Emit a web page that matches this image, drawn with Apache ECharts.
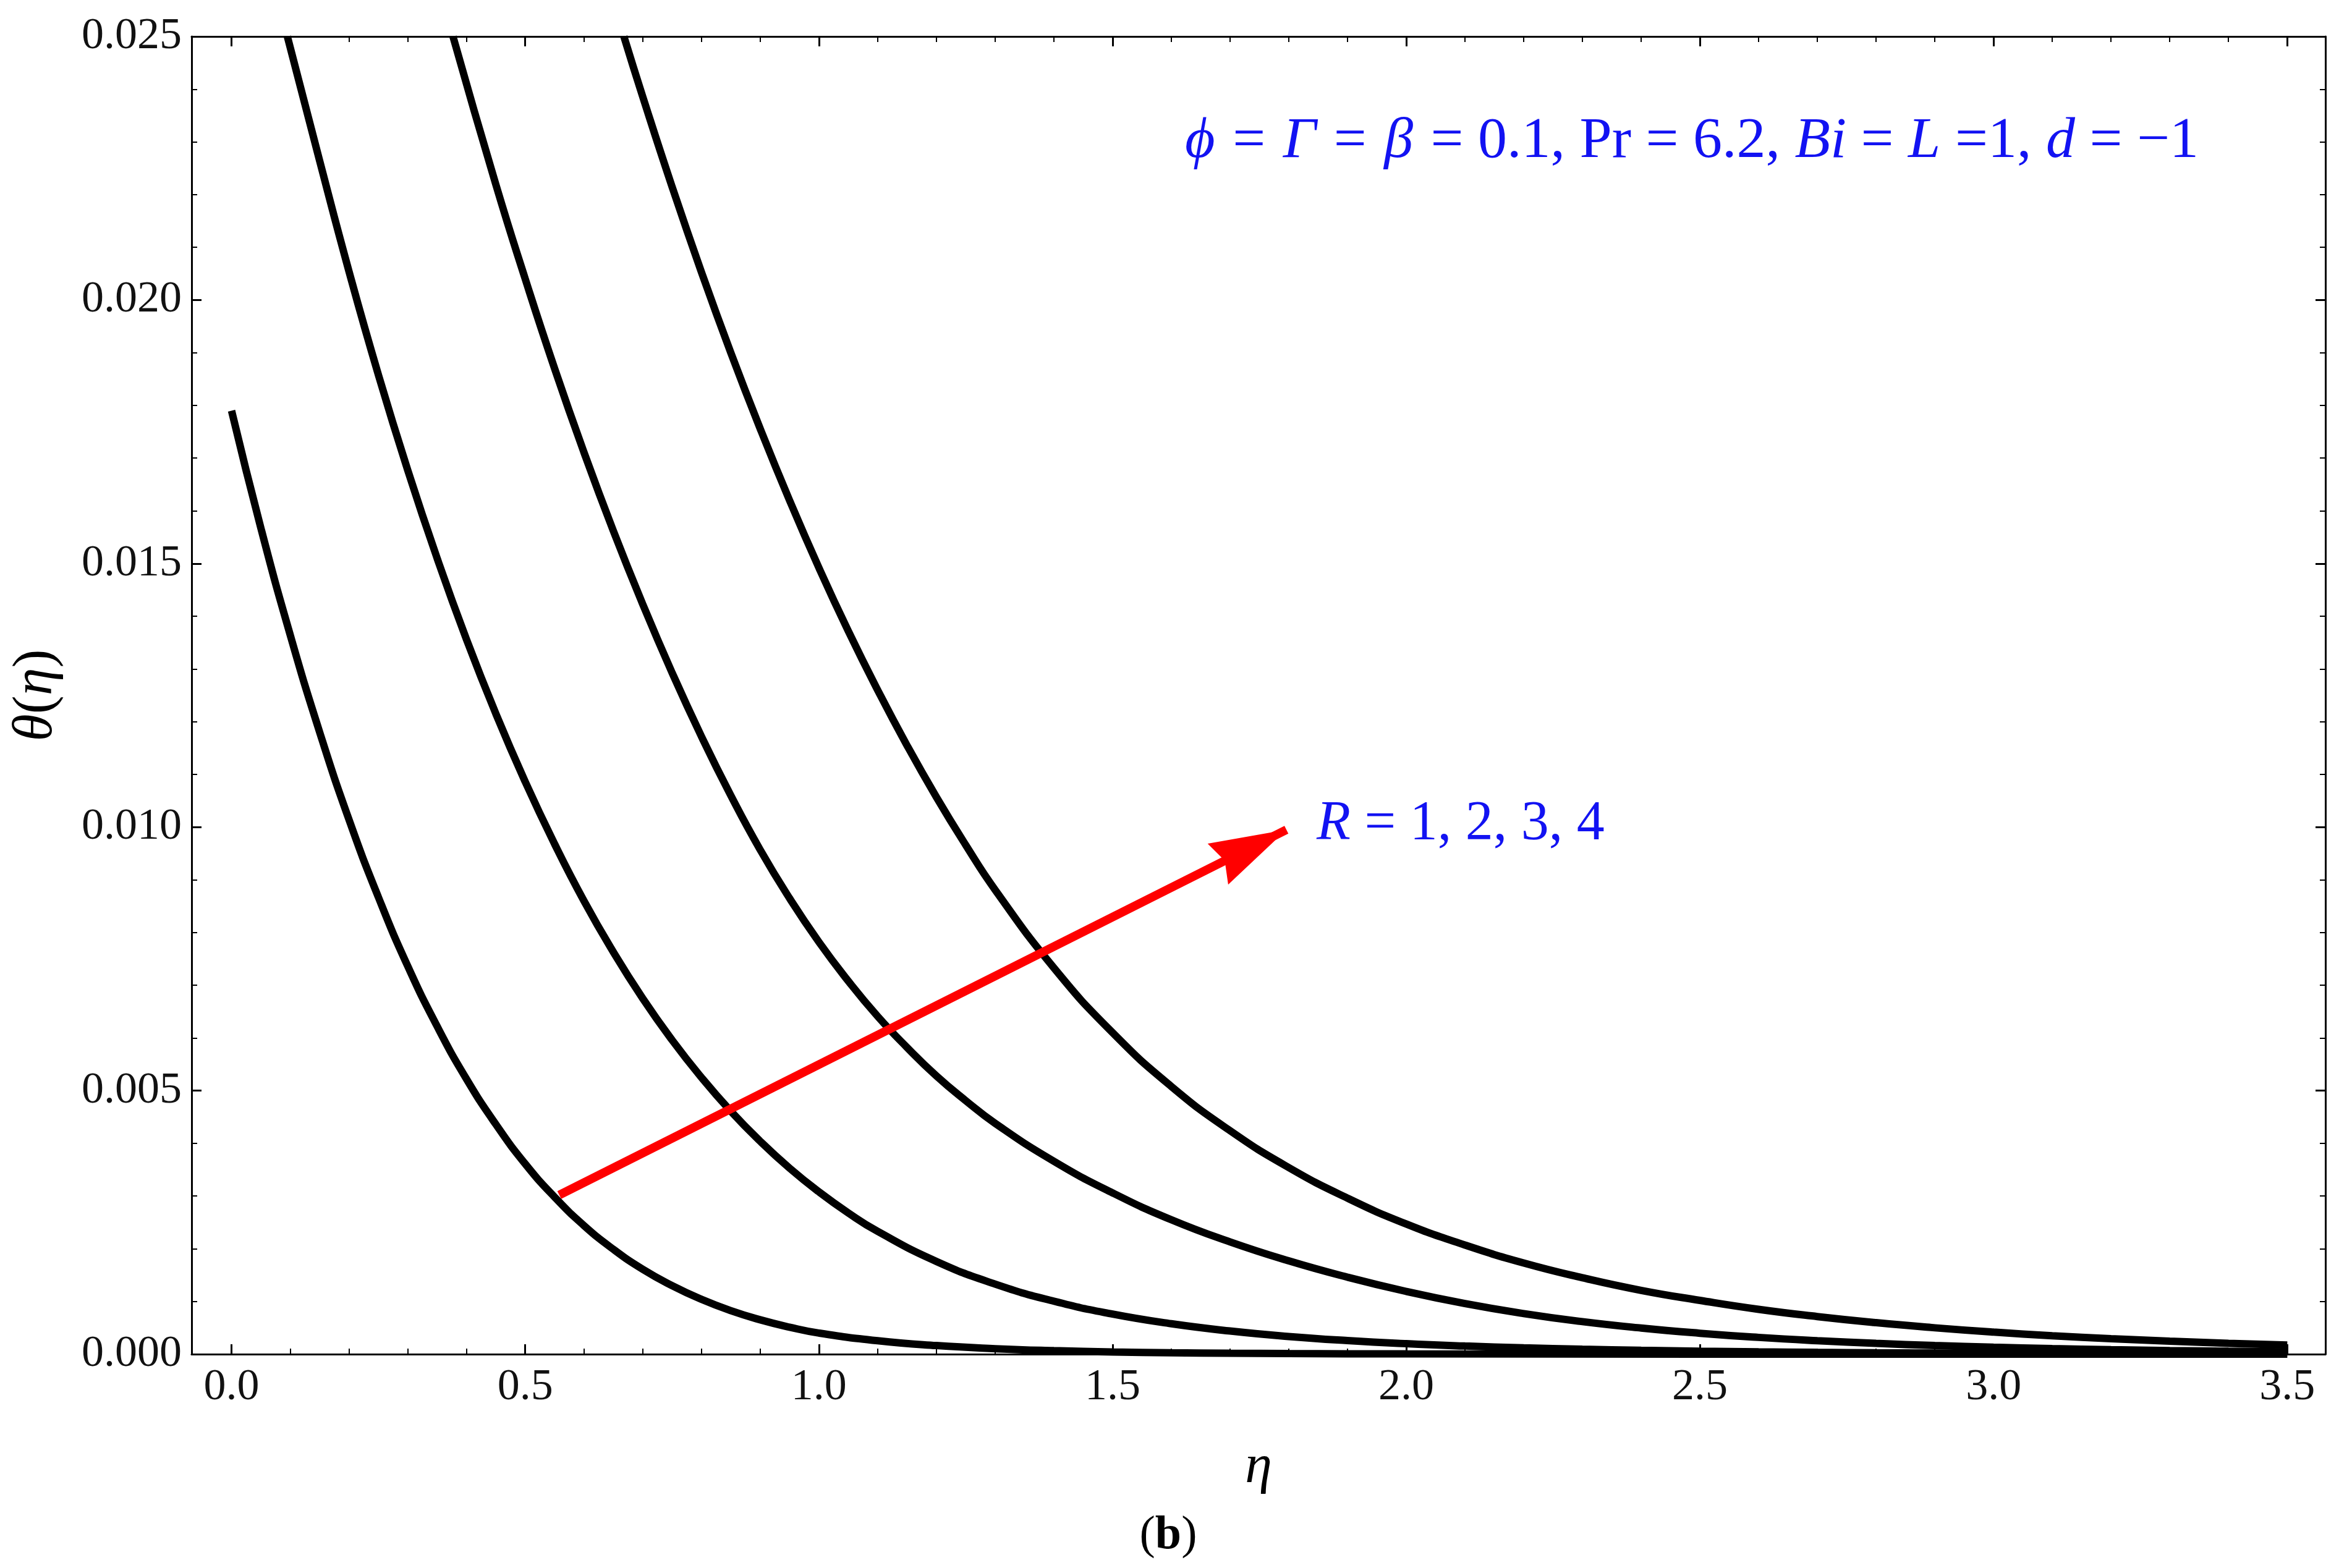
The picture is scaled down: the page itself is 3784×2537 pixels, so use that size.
<!DOCTYPE html>
<html>
<head>
<meta charset="utf-8">
<script src="https://cdn.jsdelivr.net/npm/echarts@6/dist/echarts.min.js"></script>
<style>
html,body{margin:0;padding:0;background:#ffffff;}
#chart{width:3784px;height:2537px;}
</style>
</head>
<body>
<div id="chart"></div>
<script>
// ---- data ----
const etaR1 = [0, 0.05, 0.10, 0.15, 0.20, 0.25, 0.30, 0.35, 0.40, 0.45, 0.50, 0.55, 0.60, 0.65, 0.70, 0.75, 0.80, 0.85, 0.90, 0.95, 1.00, 1.10, 1.20, 1.30, 1.40, 1.50, 1.60, 1.70, 1.80, 1.90, 2.00, 2.50, 3.00, 3.50];
const thetaR1 = [0.0179, 0.01567, 0.01364, 0.0118, 0.01014, 0.00867, 0.00736, 0.00622, 0.00522, 0.00436, 0.00361, 0.00298, 0.00244, 0.00199, 0.00161, 0.0013, 0.00104, 0.000825, 0.000652, 0.000512, 0.0004, 0.000255, 0.000163, 0.000104, 0.0000662, 0.0000422, 0.0000269, 0.0000172, 0.000011, 0.000007, 0.0000045, 0.0000005, 0, 0];

const etaR2 = [0.095, 0.15, 0.20, 0.25, 0.30, 0.35, 0.40, 0.45, 0.50, 0.55, 0.60, 0.65, 0.70, 0.75, 0.80, 0.85, 0.90, 0.95, 1.00, 1.05, 1.10, 1.20, 1.30, 1.40, 1.50, 1.60, 1.70, 1.80, 1.90, 2.00, 2.10, 2.20, 2.30, 2.40, 2.50, 2.60, 2.70, 2.80, 2.90, 3.00, 3.10, 3.20, 3.30, 3.40, 3.50];
const thetaR2 = [0.025, 0.02264, 0.02054, 0.01858, 0.01677, 0.0151, 0.01356, 0.01215, 0.01086, 0.00968, 0.0086, 0.00763, 0.00675, 0.00596, 0.00525, 0.00461, 0.00404, 0.00353, 0.00308, 0.00268, 0.00233, 0.00176, 0.00133, 0.001005, 0.00076, 0.000577, 0.000439, 0.000335, 0.000257, 0.000198, 0.000154, 0.00012, 0.0000935, 0.0000728, 0.0000567, 0.0000442, 0.0000344, 0.0000268, 0.0000209, 0.0000163, 0.0000127, 0.0000099, 0.0000077, 0.000006, 0.0000047];

const etaR3 = [0.377, 0.45, 0.50, 0.55, 0.60, 0.65, 0.70, 0.75, 0.80, 0.85, 0.90, 0.95, 1.00, 1.05, 1.10, 1.15, 1.20, 1.25, 1.30, 1.40, 1.50, 1.60, 1.70, 1.80, 1.90, 2.00, 2.10, 2.20, 2.30, 2.40, 2.50, 2.60, 2.70, 2.80, 2.90, 3.00, 3.10, 3.20, 3.30, 3.40, 3.50];
const thetaR3 = [0.025, 0.02219, 0.0204, 0.0187, 0.01711, 0.01562, 0.01423, 0.01293, 0.01172, 0.0106, 0.00957, 0.00865, 0.00782, 0.00708, 0.00641, 0.00582, 0.00528, 0.00481, 0.00438, 0.00366, 0.00306, 0.00255, 0.00213, 0.00177, 0.00146, 0.00119, 0.00096, 0.00077, 0.000617, 0.000495, 0.000397, 0.000318, 0.000255, 0.000204, 0.000164, 0.000131, 0.000105, 0.0000845, 0.0000678, 0.0000543, 0.0000436];

const etaR4 = [0.668, 0.70, 0.75, 0.80, 0.85, 0.90, 0.95, 1.00, 1.05, 1.10, 1.15, 1.20, 1.25, 1.30, 1.40, 1.50, 1.60, 1.70, 1.80, 1.90, 2.00, 2.10, 2.20, 2.30, 2.40, 2.50, 2.60, 2.70, 2.80, 2.90, 3.00, 3.10, 3.20, 3.30, 3.40, 3.50];
const thetaR4 = [0.025, 0.02386, 0.02215, 0.02053, 0.019, 0.01756, 0.0162, 0.01492, 0.01372, 0.0126, 0.01155, 0.01057, 0.00966, 0.00881, 0.00733, 0.0061, 0.00508, 0.00424, 0.00354, 0.00296, 0.00247, 0.00207, 0.00173, 0.00145, 0.00121, 0.00102, 0.00085, 0.000713, 0.000597, 0.0005, 0.000418, 0.00035, 0.000294, 0.000246, 0.000206, 0.000173];

const arrowStart = [0.558, 0.00302];
const arrowTip = [1.796, 0.00995];

const xMajorTicks = [0, 0.5, 1.0, 1.5, 2.0, 2.5, 3.0, 3.5];
const xMinorTicks = [0.1, 0.2, 0.3, 0.4, 0.6, 0.7, 0.8, 0.9, 1.1, 1.2, 1.3, 1.4, 1.6, 1.7, 1.8, 1.9, 2.1, 2.2, 2.3, 2.4, 2.6, 2.7, 2.8, 2.9, 3.1, 3.2, 3.3, 3.4];
const yMin = 0, yMax = 0.025, yStep = 0.005;
const xMin = -0.068, xMax = 3.565;

const annotationText = '{g|ϕ} = {g|Γ} = {g|β} = 0.1, Pr = 6.2, {i|Bi} = {i|L} =1, {i|d} = −1';
const curveLabelText = '{i|R} = 1, 2, 3, 4';
const captionText = '{n|(}{b|b}{n|)}';

// ---- build ----
const zip = (a, b) => a.map((v, i) => [v, b[i]]);
const FONT = '"Liberation Serif", "Times New Roman", serif';
const BLUE = '#1212f2';
const ARROW_PATH = 'path://M50,0 L100,100 L50,90 L0,100 Z';

function xAxisDef(position, ticks, len, width, showLine, withLabels) {
  return {
    type: 'value', position: position, min: xMin, max: xMax,
    splitLine: { show: false },
    axisLine: { show: showLine, onZero: false, lineStyle: { color: '#000', width: 3 } },
    axisTick: { show: true, inside: true, length: len, customValues: ticks, lineStyle: { color: '#000', width: width } },
    axisLabel: { show: withLabels, customValues: ticks, margin: 18, fontFamily: FONT, fontSize: 72, color: '#111',
                 formatter: v => Number(v).toFixed(1) },
    minorTick: { show: false }
  };
}
function yAxisDef(position, withLabels) {
  return {
    type: 'value', position: position, min: yMin, max: yMax, interval: yStep,
    splitLine: { show: false },
    axisLine: { show: true, onZero: false, lineStyle: { color: '#000', width: 3 } },
    axisTick: { show: true, inside: true, length: 16, lineStyle: { color: '#000', width: 3 } },
    minorTick: { show: true, splitNumber: 5, length: 9, lineStyle: { color: '#000', width: 2 } },
    axisLabel: { show: withLabels, margin: 16, fontFamily: FONT, fontSize: 72, color: '#111',
                 formatter: v => Number(v).toFixed(3) }
  };
}

const xAxes = [
  Object.assign(xAxisDef('bottom', xMajorTicks, 16, 3, true, true), {
    name: 'η', nameLocation: 'middle', nameGap: 140,
    nameTextStyle: { fontFamily: FONT, fontStyle: 'italic', fontSize: 88, color: '#000' }
  }),
  xAxisDef('bottom', xMinorTicks, 9, 2, false, false),
  xAxisDef('top', xMajorTicks, 16, 3, true, false),
  xAxisDef('top', xMinorTicks, 9, 2, false, false)
];
const yAxes = [
  Object.assign(yAxisDef('left', true), {
    name: '{i|θ}{n|(}{i|η}{n|)}', nameLocation: 'middle', nameGap: 206, nameRotate: 90,
    nameTextStyle: {
      fontFamily: FONT, fontSize: 90, color: '#000',
      rich: {
        i: { fontFamily: FONT, fontStyle: 'italic', fontSize: 90, color: '#000' },
        n: { fontFamily: FONT, fontSize: 90, color: '#000' }
      }
    }
  }),
  yAxisDef('right', false)
];

function curve(name, eta, theta) {
  return {
    name: name, type: 'line', xAxisIndex: 0, yAxisIndex: 0,
    data: zip(eta, theta), showSymbol: false, symbol: 'none', smooth: 0.5,
    clip: true, lineStyle: { color: '#000', width: 12 }, z: 3
  };
}

const option = {
  animation: false,
  backgroundColor: '#ffffff',
  textStyle: { fontFamily: FONT },
  grid: { left: 310, right: 22, top: 59, bottom: 346, containLabel: false },
  xAxis: xAxes,
  yAxis: yAxes,
  series: [
    curve('R = 1', etaR1, thetaR1),
    curve('R = 2', etaR2, thetaR2),
    curve('R = 3', etaR3, thetaR3),
    curve('R = 4', etaR4, thetaR4),
    {
      name: 'arrow', type: 'line', xAxisIndex: 0, yAxisIndex: 0, data: [], z: 5,
      markLine: {
        silent: true, animation: false,
        symbol: ['none', ARROW_PATH],
        symbolSize: [74, 124], symbolOffset: [0, '50%'],
        label: { show: false },
        lineStyle: { color: '#ff0000', width: 14, type: 'solid' },
        itemStyle: { color: '#ff0000' },
        emphasis: { disabled: true },
        data: [[
          { coord: arrowStart, symbol: 'none' },
          { coord: arrowTip, symbol: ARROW_PATH, symbolSize: [74, 124], symbolOffset: [0, '50%'] }
        ]]
      }
    }
  ],
  graphic: [
    {
      type: 'text', x: 1912, y: 229, silent: true,
      style: {
        text: annotationText, fontFamily: FONT, fontSize: 94, fill: BLUE,
        align: 'left', verticalAlign: 'middle',
        rich: {
          g: { fontFamily: FONT, fontStyle: 'italic', fontSize: 94, fill: BLUE, padding: [0, 5, 0, 5] },
          i: { fontFamily: FONT, fontStyle: 'italic', fontSize: 94, fill: BLUE }
        }
      }
    },
    {
      type: 'text', x: 2130, y: 1334, silent: true,
      style: {
        text: curveLabelText, fontFamily: FONT, fontSize: 90, fill: BLUE,
        align: 'left', verticalAlign: 'middle',
        rich: {
          i: { fontFamily: FONT, fontStyle: 'italic', fontSize: 90, fill: BLUE }
        }
      }
    },
    {
      type: 'text', x: 1890, y: 2485, silent: true,
      style: {
        text: captionText, fontFamily: FONT, fontSize: 76, fill: '#000',
        align: 'center', verticalAlign: 'middle',
        rich: {
          n: { fontFamily: FONT, fontSize: 76, fill: '#000' },
          b: { fontFamily: FONT, fontWeight: 'bold', fontSize: 76, fill: '#000' }
        }
      }
    }
  ]
};

const chart = echarts.init(document.getElementById('chart'), null, { renderer: 'canvas', width: 3784, height: 2537 });
chart.setOption(option);
</script>
</body>
</html>
